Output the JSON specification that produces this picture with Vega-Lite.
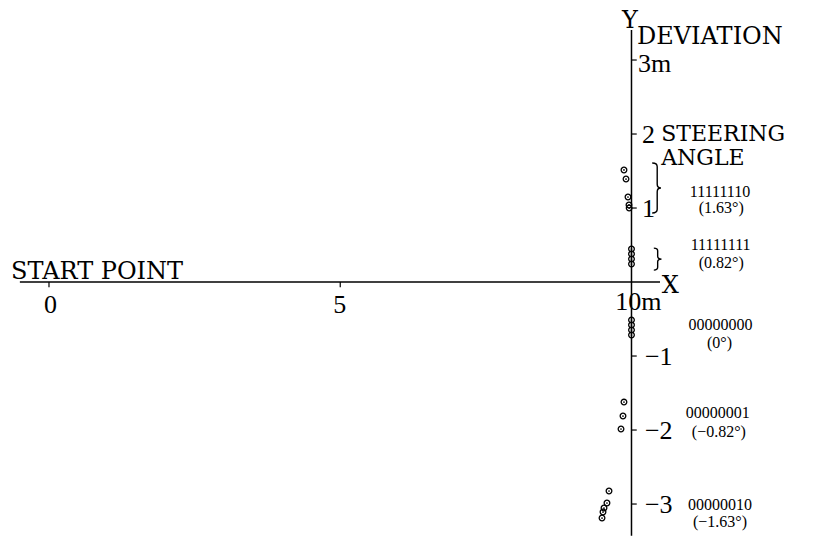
{
  "$schema": "https://vega.github.io/schema/vega-lite/v6.json",
  "width": 813,
  "height": 536,
  "padding": 0,
  "background": "white",
  "view": {"stroke": null},
  "config": {"text": {"color": "black"}},
  "datasets": {
    "axisLines": [
      {"x": -0.5, "x2": 10.49, "y": 0, "y2": 0},
      {"x": 10, "x2": 10, "y": 3.405, "y2": -3.43}
    ],
    "ticks": [
      {"x": 0, "x2": 0, "y": 0, "y2": -0.07},
      {"x": 5, "x2": 5, "y": 0, "y2": -0.07},
      {"x": 10, "x2": 10.09, "y": 3, "y2": 3},
      {"x": 10, "x2": 10.09, "y": 2, "y2": 2},
      {"x": 10, "x2": 10.09, "y": 1, "y2": 1},
      {"x": 10, "x2": 10.09, "y": -1, "y2": -1},
      {"x": 10, "x2": 10.09, "y": -2, "y2": -2},
      {"x": 10, "x2": 10.09, "y": -3, "y2": -3}
    ],
    "points": [
      {"x": 9.871, "y": 1.514},
      {"x": 9.906, "y": 1.392},
      {"x": 9.94, "y": 1.149},
      {"x": 9.957, "y": 1.041},
      {"x": 9.96, "y": 1.0},
      {"x": 10.0, "y": 0.446},
      {"x": 10.0, "y": 0.378},
      {"x": 10.0, "y": 0.311},
      {"x": 10.0, "y": 0.243},
      {"x": 10.0, "y": -0.514},
      {"x": 10.0, "y": -0.581},
      {"x": 10.0, "y": -0.649},
      {"x": 10.0, "y": -0.716},
      {"x": 9.871, "y": -1.622},
      {"x": 9.854, "y": -1.811},
      {"x": 9.82, "y": -1.986},
      {"x": 9.614, "y": -2.824},
      {"x": 9.579, "y": -2.986},
      {"x": 9.528, "y": -3.054},
      {"x": 9.511, "y": -3.108},
      {"x": 9.494, "y": -3.189}
    ],
    "numbers": [
      {"x": 10.11, "y": 2.84, "text": "3m"},
      {"x": 10.18, "y": 1.878, "text": "2"},
      {"x": 10.18, "y": 0.878, "text": "1"},
      {"x": 10.23, "y": -1.12, "text": "−1"},
      {"x": 10.23, "y": -2.12, "text": "−2"},
      {"x": 10.23, "y": -3.12, "text": "−3"},
      {"x": 9.72, "y": -0.378, "text": "10m"},
      {"x": -0.086, "y": -0.419, "text": "0"},
      {"x": 4.88, "y": -0.419, "text": "5"}
    ],
    "words": [
      {"x": 9.837, "y": 3.43, "text": "Y"},
      {"x": 10.095, "y": 3.215, "text": "DEVIATION"},
      {"x": 10.52, "y": -0.149, "text": "X"},
      {"x": -0.652, "y": 0.04, "text": "START POINT"}
    ],
    "steering": [
      {"x": 10.51, "y": 1.905, "text": "STEERING\nANGLE"}
    ],
    "codes": [
      {"x": 11.52, "y": 1.149, "text": "11111110"},
      {"x": 11.54, "y": 0.932, "text": "(1.63°)"},
      {"x": 11.53, "y": 0.432, "text": "11111111"},
      {"x": 11.54, "y": 0.189, "text": "(0.82°)"},
      {"x": 11.53, "y": -0.649, "text": "00000000"},
      {"x": 11.51, "y": -0.892, "text": "(0°)"},
      {"x": 11.48, "y": -1.838, "text": "00000001"},
      {"x": 11.50, "y": -2.095, "text": "(−0.82°)"},
      {"x": 11.52, "y": -3.081, "text": "00000010"},
      {"x": 11.52, "y": -3.311, "text": "(−1.63°)"}
    ],
    "braceBig": [{"x": 10.42, "y": 1.27}],
    "braceSmall": [{"x": 10.44, "y": 0.31}]
  },
  "encoding": {
    "x": {"field": "x", "type": "quantitative", "scale": {"domain": [-0.841, 13.116], "nice": false, "zero": false}, "axis": null},
    "y": {"field": "y", "type": "quantitative", "scale": {"domain": [-3.432, 3.811], "nice": false, "zero": false}, "axis": null}
  },
  "layer": [
    {
      "data": {"name": "axisLines"},
      "mark": {"type": "rule", "color": "black", "strokeWidth": 1.5},
      "encoding": {"x2": {"field": "x2"}, "y2": {"field": "y2"}}
    },
    {
      "data": {"name": "ticks"},
      "mark": {"type": "rule", "color": "black", "strokeWidth": 1.2},
      "encoding": {"x2": {"field": "x2"}, "y2": {"field": "y2"}}
    },
    {
      "data": {"name": "points"},
      "mark": {"type": "point", "shape": "circle", "filled": false, "stroke": "black", "strokeWidth": 1.3, "size": 32, "opacity": 1}
    },
    {
      "data": {"name": "points"},
      "mark": {"type": "point", "shape": "circle", "filled": true, "color": "black", "size": 3, "opacity": 1}
    },
    {
      "data": {"name": "braceBig"},
      "mark": {"type": "point", "filled": false, "stroke": "black", "strokeWidth": 1.4, "opacity": 1, "size": 2500,
        "shape": "M -0.15 -1 Q 0.05 -1 0.05 -0.85 L 0.05 -0.15 Q 0.05 0 0.2 0 Q 0.05 0 0.05 0.15 L 0.05 0.85 Q 0.05 1 -0.15 1"}
    },
    {
      "data": {"name": "braceSmall"},
      "mark": {"type": "point", "filled": false, "stroke": "black", "strokeWidth": 1.4, "opacity": 1, "size": 484,
        "shape": "M -0.3 -1 Q 0.05 -1 0.05 -0.75 L 0.05 -0.25 Q 0.05 0 0.4 0 Q 0.05 0 0.05 0.25 L 0.05 0.75 Q 0.05 1 -0.3 1"}
    },
    {
      "data": {"name": "numbers"},
      "mark": {"type": "text", "font": "Liberation Serif", "fontSize": 26, "align": "left", "baseline": "alphabetic"},
      "encoding": {"text": {"field": "text"}}
    },
    {
      "data": {"name": "words"},
      "mark": {"type": "text", "font": "DejaVu Serif", "fontSize": 24, "align": "left", "baseline": "alphabetic"},
      "encoding": {"text": {"field": "text"}}
    },
    {
      "data": {"name": "steering"},
      "mark": {"type": "text", "font": "DejaVu Serif", "fontSize": 22, "align": "left", "baseline": "alphabetic", "lineBreak": "\n", "lineHeight": 24},
      "encoding": {"text": {"field": "text"}}
    },
    {
      "data": {"name": "codes"},
      "mark": {"type": "text", "font": "Liberation Serif", "fontSize": 16, "align": "center", "baseline": "alphabetic"},
      "encoding": {"text": {"field": "text"}}
    }
  ]
}
